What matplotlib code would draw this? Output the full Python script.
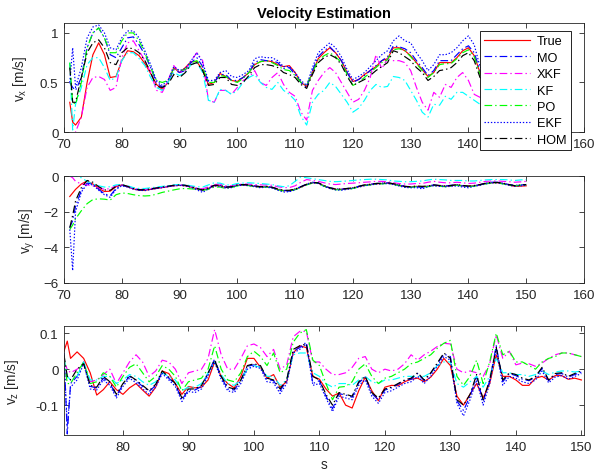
import matplotlib
matplotlib.use("Agg")
import matplotlib.pyplot as plt

plt.rcParams['font.family'] = ['Liberation Sans', 'DejaVu Sans']
plt.rcParams['mathtext.default'] = 'regular'
plt.rcParams['lines.scale_dashes'] = False

# sample times [s]
t = [71.0, 71.5] + list(range(72, 151))

# ---- v_x [m/s] ----
vx_true = [0.30, 0.10, 0.07, 0.15, 0.50, 0.78, 0.90, 0.78, 0.55, 0.56,
           0.72, 0.82, 0.81, 0.77, 0.69, 0.59, 0.48, 0.43, 0.50, 0.65,
           0.60, 0.65, 0.71, 0.71, 0.62, 0.48, 0.50, 0.59, 0.56, 0.52,
           0.51, 0.55, 0.60, 0.68, 0.71, 0.72, 0.71, 0.68, 0.66, 0.67,
           0.60, 0.50, 0.46, 0.60, 0.74, 0.80, 0.85, 0.80, 0.72, 0.60,
           0.51, 0.53, 0.58, 0.62, 0.66, 0.72, 0.74, 0.85, 0.85, 0.82,
           0.77, 0.70, 0.63, 0.56, 0.60, 0.70, 0.70, 0.70, 0.75, 0.82,
           0.85, 0.77, 0.60, 0.55, 0.58, 0.62, 0.66, 0.68, 0.70, 0.68,
           0.65]
vx_mo = [0.50, 0.45, 0.42, 0.55, 0.85, 1.00, 1.05, 0.95, 0.78, 0.75,
         0.85, 0.95, 0.96, 0.88, 0.78, 0.65, 0.50, 0.45, 0.50, 0.63,
         0.60, 0.62, 0.70, 0.75, 0.66, 0.50, 0.50, 0.58, 0.58, 0.52,
         0.52, 0.55, 0.60, 0.70, 0.73, 0.72, 0.72, 0.70, 0.64, 0.65,
         0.58, 0.50, 0.45, 0.62, 0.76, 0.82, 0.86, 0.80, 0.72, 0.60,
         0.50, 0.53, 0.57, 0.62, 0.67, 0.72, 0.76, 0.87, 0.86, 0.84,
         0.80, 0.72, 0.65, 0.57, 0.62, 0.72, 0.72, 0.72, 0.78, 0.84,
         0.87, 0.80, 0.62, 0.57, 0.60, 0.64, 0.68, 0.70, 0.72, 0.70,
         0.67]
vx_xkf = [-0.10, -0.05, 0.00, 0.15, 0.45, 0.55, 0.56, 0.53, 0.42, 0.45,
          0.75, 0.90, 0.92, 0.82, 0.72, 0.60, 0.42, 0.40, 0.52, 0.67,
          0.60, 0.62, 0.72, 0.80, 0.72, 0.32, 0.30, 0.42, 0.42, 0.38,
          0.45, 0.52, 0.55, 0.62, 0.50, 0.47, 0.55, 0.60, 0.48, 0.40,
          0.36, 0.20, 0.12, 0.42, 0.52, 0.60, 0.65, 0.60, 0.50, 0.40,
          0.30, 0.33, 0.42, 0.55, 0.78, 0.64, 0.74, 0.72, 0.72, 0.70,
          0.62, 0.45, 0.30, 0.22, 0.40, 0.35, 0.48, 0.45, 0.55, 0.60,
          0.52, 0.38, 0.35, 0.38, 0.42, 0.46, 0.50, 0.50, 0.48, 0.46,
          0.45]
vx_kf = [0.70, 0.02, 0.28, 0.45, 0.68, 0.75, 0.75, 0.65, 0.52, 0.55,
         0.72, 0.80, 0.80, 0.74, 0.67, 0.55, 0.45, 0.42, 0.50, 0.60,
         0.57, 0.60, 0.68, 0.70, 0.60, 0.32, 0.30, 0.43, 0.42, 0.38,
         0.42, 0.50, 0.55, 0.58, 0.50, 0.45, 0.43, 0.50, 0.42, 0.38,
         0.32, 0.16, 0.07, 0.30, 0.38, 0.42, 0.50, 0.46, 0.38, 0.30,
         0.20, 0.24, 0.32, 0.42, 0.48, 0.45, 0.46, 0.56, 0.55, 0.52,
         0.42, 0.32, 0.20, 0.15, 0.28, 0.27, 0.36, 0.33, 0.40, 0.40,
         0.36, 0.32, 0.28, 0.30, 0.33, 0.36, 0.40, 0.42, 0.40, 0.38,
         0.38]
vx_po = [0.70, 0.30, 0.28, 0.50, 0.85, 1.00, 1.05, 0.95, 0.80, 0.80,
         0.92, 1.00, 1.00, 0.92, 0.80, 0.65, 0.52, 0.50, 0.52, 0.64,
         0.62, 0.63, 0.70, 0.72, 0.65, 0.50, 0.50, 0.57, 0.56, 0.52,
         0.50, 0.54, 0.60, 0.68, 0.71, 0.72, 0.70, 0.67, 0.63, 0.62,
         0.57, 0.50, 0.47, 0.60, 0.72, 0.77, 0.80, 0.76, 0.70, 0.58,
         0.47, 0.50, 0.55, 0.60, 0.65, 0.70, 0.73, 0.83, 0.84, 0.82,
         0.76, 0.69, 0.62, 0.55, 0.60, 0.68, 0.69, 0.69, 0.74, 0.80,
         0.83, 0.76, 0.58, 0.54, 0.57, 0.61, 0.65, 0.67, 0.69, 0.67,
         0.64]
vx_ekf = [0.50, 0.85, 0.45, 0.65, 0.95, 1.06, 1.08, 1.00, 0.85, 0.83,
          0.95, 1.02, 1.02, 0.95, 0.82, 0.68, 0.52, 0.47, 0.52, 0.66,
          0.62, 0.64, 0.72, 0.80, 0.70, 0.52, 0.52, 0.60, 0.62, 0.56,
          0.55, 0.58, 0.62, 0.74, 0.76, 0.75, 0.75, 0.72, 0.66, 0.66,
          0.60, 0.52, 0.47, 0.65, 0.80, 0.85, 0.90, 0.85, 0.76, 0.63,
          0.53, 0.56, 0.60, 0.66, 0.72, 0.78, 0.82, 0.92, 0.97, 0.92,
          0.90, 0.80, 0.72, 0.62, 0.68, 0.78, 0.78, 0.80, 0.85, 0.92,
          0.97, 0.88, 0.66, 0.60, 0.63, 0.67, 0.71, 0.73, 0.75, 0.73,
          0.70]
vx_hom = [0.65, 0.30, 0.30, 0.55, 0.80, 0.90, 0.93, 0.85, 0.70, 0.68,
          0.80, 0.85, 0.84, 0.80, 0.72, 0.60, 0.46, 0.45, 0.48, 0.58,
          0.55, 0.60, 0.68, 0.70, 0.62, 0.47, 0.48, 0.55, 0.55, 0.48,
          0.47, 0.50, 0.57, 0.65, 0.68, 0.68, 0.67, 0.65, 0.60, 0.58,
          0.55, 0.48, 0.44, 0.58, 0.70, 0.75, 0.78, 0.75, 0.68, 0.56,
          0.47, 0.50, 0.53, 0.57, 0.62, 0.66, 0.70, 0.82, 0.80, 0.76,
          0.72, 0.65, 0.60, 0.52, 0.56, 0.62, 0.63, 0.65, 0.70, 0.77,
          0.80, 0.72, 0.55, 0.52, 0.55, 0.59, 0.63, 0.65, 0.67, 0.65,
          0.62]

# ---- v_y [m/s] ----
vy_true = [-1.15, -0.95, -0.75, -0.45, -0.28, -0.45, -0.70, -0.87, -0.85, -0.60,
           -0.50, -0.60, -0.72, -0.80, -0.80, -0.75, -0.70, -0.65, -0.60, -0.55,
           -0.52, -0.55, -0.62, -0.72, -0.80, -0.70, -0.55, -0.55, -0.65, -0.62,
           -0.52, -0.50, -0.52, -0.58, -0.62, -0.60, -0.65, -0.75, -0.82, -0.82,
           -0.75, -0.62, -0.48, -0.38, -0.40, -0.55, -0.68, -0.75, -0.75, -0.72,
           -0.68, -0.60, -0.52, -0.48, -0.44, -0.42, -0.40, -0.45, -0.52, -0.60,
           -0.62, -0.58, -0.60, -0.58, -0.52, -0.55, -0.58, -0.55, -0.50, -0.55,
           -0.58, -0.55, -0.50, -0.42, -0.38, -0.38, -0.42, -0.50, -0.58, -0.57,
           -0.55]
vy_mo = [-2.90, -2.50, -1.70, -0.80, -0.40, -0.45, -0.75, -1.00, -1.10, -0.70,
         -0.52, -0.60, -0.72, -0.78, -0.78, -0.72, -0.68, -0.63, -0.58, -0.53,
         -0.50, -0.53, -0.60, -0.70, -0.82, -0.68, -0.52, -0.53, -0.62, -0.60,
         -0.50, -0.48, -0.50, -0.55, -0.60, -0.58, -0.63, -0.72, -0.80, -0.85,
         -0.72, -0.60, -0.45, -0.35, -0.40, -0.55, -0.66, -0.72, -0.74, -0.70,
         -0.66, -0.58, -0.50, -0.46, -0.42, -0.40, -0.38, -0.44, -0.50, -0.58,
         -0.62, -0.60, -0.65, -0.56, -0.50, -0.54, -0.56, -0.52, -0.48, -0.55,
         -0.60, -0.55, -0.48, -0.40, -0.35, -0.35, -0.40, -0.48, -0.52, -0.50,
         -0.48]
vy_xkf = [0.00, -0.10, -0.30, -0.45, -0.50, -0.55, -0.65, -0.75, -0.70, -0.55,
          -0.50, -0.58, -0.68, -0.75, -0.75, -0.70, -0.66, -0.62, -0.58, -0.52,
          -0.50, -0.52, -0.58, -0.68, -0.72, -0.60, -0.48, -0.45, -0.55, -0.55,
          -0.48, -0.45, -0.45, -0.48, -0.50, -0.50, -0.52, -0.60, -0.65, -0.65,
          -0.55, -0.35, -0.20, -0.25, -0.30, -0.38, -0.45, -0.48, -0.45, -0.42,
          -0.40, -0.38, -0.35, -0.33, -0.30, -0.30, -0.32, -0.38, -0.42, -0.45,
          -0.45, -0.42, -0.42, -0.35, -0.30, -0.35, -0.38, -0.38, -0.35, -0.38,
          -0.42, -0.40, -0.35, -0.30, -0.28, -0.28, -0.30, -0.32, -0.35, -0.33,
          -0.30]
vy_kf = [0.00, 0.00, 0.00, -0.10, -0.30, -0.45, -0.55, -0.62, -0.60, -0.50,
         -0.48, -0.55, -0.65, -0.70, -0.70, -0.66, -0.62, -0.58, -0.55, -0.50,
         -0.48, -0.50, -0.55, -0.60, -0.62, -0.50, -0.38, -0.40, -0.50, -0.50,
         -0.42, -0.40, -0.38, -0.40, -0.42, -0.45, -0.48, -0.55, -0.60, -0.55,
         -0.30, -0.05, -0.10, -0.15, -0.20, -0.25, -0.30, -0.32, -0.30, -0.28,
         -0.25, -0.22, -0.20, -0.18, -0.18, -0.20, -0.22, -0.28, -0.30, -0.32,
         -0.32, -0.30, -0.28, -0.22, -0.18, -0.20, -0.22, -0.25, -0.25, -0.25,
         -0.28, -0.28, -0.25, -0.22, -0.20, -0.20, -0.20, -0.22, -0.25, -0.22,
         -0.20]
vy_po = [-3.00, -2.75, -2.40, -1.95, -1.55, -1.32, -1.28, -1.30, -1.35, -1.05,
         -0.95, -0.98, -1.05, -1.10, -1.12, -1.10, -1.02, -0.92, -0.85, -0.78,
         -0.72, -0.70, -0.72, -0.75, -0.80, -0.75, -0.62, -0.62, -0.70, -0.65,
         -0.55, -0.52, -0.54, -0.60, -0.64, -0.62, -0.67, -0.77, -0.84, -0.84,
         -0.77, -0.64, -0.50, -0.40, -0.42, -0.57, -0.70, -0.77, -0.77, -0.74,
         -0.70, -0.62, -0.54, -0.50, -0.46, -0.44, -0.42, -0.47, -0.54, -0.62,
         -0.64, -0.60, -0.62, -0.60, -0.54, -0.57, -0.60, -0.57, -0.52, -0.57,
         -0.60, -0.57, -0.52, -0.44, -0.40, -0.40, -0.44, -0.52, -0.56, -0.52,
         -0.50]
vy_ekf = [-3.00, -5.30, -2.00, -0.90, -0.45, -0.50, -0.80, -1.05, -1.20, -0.75,
          -0.55, -0.62, -0.74, -0.80, -0.82, -0.76, -0.70, -0.66, -0.60, -0.56,
          -0.53, -0.56, -0.64, -0.78, -0.92, -0.72, -0.56, -0.58, -0.68, -0.65,
          -0.54, -0.52, -0.54, -0.60, -0.66, -0.62, -0.68, -0.80, -0.90, -0.88,
          -0.78, -0.62, -0.48, -0.38, -0.42, -0.58, -0.70, -0.78, -0.80, -0.75,
          -0.70, -0.62, -0.55, -0.50, -0.46, -0.44, -0.42, -0.48, -0.56, -0.64,
          -0.66, -0.65, -0.72, -0.60, -0.55, -0.58, -0.60, -0.58, -0.55, -0.62,
          -0.66, -0.58, -0.52, -0.44, -0.40, -0.38, -0.44, -0.52, -0.58, -0.55,
          -0.52]
vy_hom = [-2.90, -2.20, -1.40, -0.65, -0.25, -0.35, -0.60, -0.78, -0.80, -0.58,
          -0.48, -0.58, -0.70, -0.77, -0.77, -0.72, -0.67, -0.62, -0.57, -0.52,
          -0.50, -0.52, -0.60, -0.70, -0.78, -0.67, -0.52, -0.52, -0.62, -0.60,
          -0.50, -0.48, -0.50, -0.56, -0.60, -0.58, -0.63, -0.73, -0.80, -0.80,
          -0.73, -0.60, -0.46, -0.36, -0.38, -0.53, -0.66, -0.73, -0.73, -0.70,
          -0.66, -0.58, -0.50, -0.46, -0.42, -0.40, -0.38, -0.43, -0.50, -0.58,
          -0.60, -0.56, -0.58, -0.56, -0.50, -0.53, -0.56, -0.53, -0.48, -0.53,
          -0.56, -0.53, -0.48, -0.40, -0.36, -0.36, -0.40, -0.48, -0.54, -0.50,
          -0.48]

# ---- v_z [m/s] ----
vz_true = [0.050, 0.078, 0.030, 0.048, 0.030, -0.010, -0.072, -0.057, -0.035, -0.057,
           -0.070, -0.052, -0.040, -0.058, -0.075, -0.050, -0.005, -0.012, -0.040, -0.070,
           -0.048, -0.052, -0.050, -0.030, 0.020, -0.020, -0.040, -0.052, -0.020, 0.030,
           0.030, 0.005, -0.025, -0.015, -0.050, -0.035, 0.045, 0.065, 0.060, -0.020,
           -0.028, -0.055, -0.075, -0.066, -0.100, -0.108, -0.060, -0.022, -0.060, -0.088,
           -0.050, -0.045, -0.046, -0.035, -0.028, -0.025, -0.035, -0.022, 0.000, 0.030,
           0.010, -0.075, -0.100, -0.070, -0.040, -0.080, -0.040, 0.040, -0.020, -0.020,
           -0.030, -0.045, -0.045, -0.025, -0.020, -0.030, -0.018, -0.018, -0.028, -0.025,
           -0.030]
vz_mo = [0.045, -0.180, -0.040, -0.020, 0.020, -0.048, -0.052, -0.025, -0.038, -0.075,
         -0.042, -0.020, -0.032, -0.048, -0.062, -0.045, -0.008, -0.025, -0.042, -0.085,
         -0.058, -0.058, -0.048, -0.012, 0.028, -0.022, -0.055, -0.058, -0.032, 0.008,
         0.012, 0.008, -0.028, -0.032, -0.060, -0.032, 0.050, 0.060, 0.075, -0.040,
         -0.032, -0.075, -0.110, -0.068, -0.072, -0.078, -0.038, -0.022, -0.068, -0.085,
         -0.058, -0.052, -0.042, -0.032, -0.028, -0.012, -0.032, -0.012, 0.015, 0.042,
         0.035, -0.088, -0.115, -0.075, -0.020, -0.090, -0.032, 0.065, -0.035, -0.012,
         -0.018, -0.028, -0.032, -0.022, 0.002, -0.032, -0.015, -0.012, -0.022, -0.015,
         -0.008]
vz_xkf = [0.020, 0.000, -0.010, 0.000, 0.015, -0.035, -0.030, -0.015, 0.000, -0.040,
          -0.010, 0.020, 0.040, 0.020, -0.020, -0.005, 0.025, 0.020, 0.000, -0.040,
          -0.010, -0.005, 0.000, 0.030, 0.110, 0.040, 0.000, 0.000, 0.030, 0.065,
          0.070, 0.060, 0.035, 0.055, 0.000, 0.012, 0.090, 0.105, 0.105, 0.020,
          0.020, 0.000, -0.015, -0.015, -0.010, 0.005, 0.030, 0.035, 0.000, -0.010,
          0.000, -0.005, 0.000, 0.015, 0.040, 0.025, 0.040, 0.050, 0.063, 0.072,
          0.070, 0.000, -0.010, -0.005, -0.010, -0.020, 0.015, 0.095, 0.030, 0.050,
          0.012, 0.017, 0.015, 0.008, 0.017, 0.030, 0.040, 0.045, 0.045, 0.040,
          0.035]
vz_kf = [0.030, -0.020, -0.030, -0.020, 0.020, -0.030, -0.030, -0.020, -0.020, -0.040,
         -0.030, -0.015, -0.020, -0.035, -0.045, -0.035, -0.010, -0.020, -0.030, -0.060,
         -0.050, -0.050, -0.040, -0.010, 0.020, -0.015, -0.040, -0.045, -0.030, 0.000,
         0.010, 0.005, -0.020, -0.020, -0.045, -0.030, 0.040, 0.045, 0.045, -0.010,
         -0.020, -0.040, -0.050, -0.040, -0.040, -0.045, -0.030, -0.020, -0.035, -0.040,
         -0.030, -0.030, -0.025, -0.020, -0.020, -0.020, -0.020, -0.010, 0.010, 0.020,
         0.020, -0.040, -0.050, -0.035, -0.020, -0.050, -0.020, 0.030, -0.010, -0.010,
         -0.015, -0.015, -0.020, -0.015, -0.005, -0.015, -0.008, -0.005, -0.005, -0.008,
         -0.005]
vz_po = [0.030, -0.040, -0.040, -0.010, 0.020, -0.040, -0.035, -0.010, -0.020, -0.050,
         -0.020, 0.005, 0.015, -0.010, -0.035, -0.020, 0.010, 0.000, -0.020, -0.060,
         -0.035, -0.030, -0.025, 0.000, 0.065, 0.000, -0.030, -0.035, -0.010, 0.035,
         0.050, 0.035, 0.010, 0.045, -0.010, 0.000, 0.075, 0.100, 0.110, 0.025,
         0.010, -0.040, -0.085, -0.050, -0.048, -0.035, 0.000, 0.015, -0.020, -0.040,
         -0.025, -0.020, -0.010, 0.000, 0.015, 0.020, 0.030, 0.040, 0.058, 0.072,
         0.080, -0.020, -0.045, -0.020, 0.025, -0.040, 0.020, 0.100, 0.040, 0.050,
         0.020, 0.020, 0.010, 0.000, 0.020, 0.030, 0.035, 0.045, 0.045, 0.040,
         0.035]
vz_ekf = [0.035, -0.160, -0.050, -0.030, 0.015, -0.055, -0.058, -0.030, -0.045, -0.080,
          -0.048, -0.025, -0.038, -0.055, -0.070, -0.050, -0.012, -0.030, -0.048, -0.090,
          -0.062, -0.065, -0.055, -0.018, 0.020, -0.028, -0.060, -0.065, -0.040, 0.000,
          0.008, 0.002, -0.035, -0.038, -0.068, -0.040, 0.045, 0.055, 0.070, -0.045,
          -0.040, -0.080, -0.118, -0.075, -0.080, -0.085, -0.045, -0.030, -0.075, -0.095,
          -0.065, -0.060, -0.050, -0.040, -0.035, -0.020, -0.040, -0.020, 0.008, 0.035,
          0.025, -0.095, -0.130, -0.085, -0.030, -0.100, -0.040, 0.055, -0.045, -0.020,
          -0.025, -0.035, -0.040, -0.030, -0.005, -0.038, -0.022, -0.018, -0.028, -0.020,
          -0.012]
vz_hom = [0.040, -0.020, -0.030, 0.000, 0.015, -0.045, -0.050, -0.020, -0.035, -0.070,
          -0.040, -0.018, -0.030, -0.045, -0.060, -0.042, -0.005, -0.022, -0.040, -0.080,
          -0.055, -0.055, -0.045, -0.010, 0.025, -0.020, -0.050, -0.055, -0.030, 0.010,
          0.015, 0.010, -0.025, -0.030, -0.055, -0.030, 0.055, 0.065, 0.070, -0.020,
          -0.030, -0.070, -0.100, -0.065, -0.070, -0.075, -0.035, -0.020, -0.065, -0.080,
          -0.055, -0.050, -0.040, -0.030, -0.025, -0.010, -0.030, -0.010, 0.017, 0.045,
          0.030, -0.085, -0.100, -0.070, -0.015, -0.085, -0.030, 0.060, -0.030, -0.010,
          -0.015, -0.025, -0.030, -0.020, 0.005, -0.030, -0.012, -0.010, -0.020, -0.012,
          -0.005]

labels = ['True', 'MO', 'XKF', 'KF', 'PO', 'EKF', 'HOM']
colors = ['#ff0000', '#0000ff', '#ff00ff', '#00ffff', '#00ff00', '#0000ff', '#000000']
DASHDOT = (0, (5.5, 2.2, 1.0, 2.2))
DOTTED = (0, (1.0, 1.3))
styles = ['-', DASHDOT, DASHDOT, DASHDOT, DASHDOT, DOTTED, DASHDOT]

vx = [vx_true, vx_mo, vx_xkf, vx_kf, vx_po, vx_ekf, vx_hom]
vy = [vy_true, vy_mo, vy_xkf, vy_kf, vy_po, vy_ekf, vy_hom]
vz = [vz_true, vz_mo, vz_xkf, vz_kf, vz_po, vz_ekf, vz_hom]

W, H = 613, 477
fig = plt.figure(figsize=(W / 100, H / 100), dpi=100)

def px_axes(left, top, right, bottom):
    return fig.add_axes([left / W, 1 - bottom / H, (right - left) / W, (bottom - top) / H])

ax1 = px_axes(64, 24, 584, 133)
ax2 = px_axes(64, 177, 584, 284)
ax3 = px_axes(64, 327, 584, 436)

FS = 9.6
edge = '#262626'

def style_axes(ax):
    for sp in ax.spines.values():
        sp.set_color(edge)
        sp.set_linewidth(0.6)
    ax.tick_params(direction='in', top=True, right=True, length=3.5, width=0.6,
                   colors=edge, labelsize=FS)
    ax.tick_params(axis='x', pad=4.5)
    ax.tick_params(axis='y', pad=4)

lines = []
for data, ax in ((vx, ax1), (vy, ax2), (vz, ax3)):
    hs = []
    for y, c, ls, lab in zip(data, colors, styles, labels):
        h, = ax.plot(t, y, color=c, linestyle=ls, linewidth=0.85, label=lab)
        hs.append(h)
    lines.append(hs)
    style_axes(ax)

ax1.set_xlim(70, 160)
ax1.set_ylim(0, 1.1)
ax1.set_xticks(range(70, 161, 10))
ax1.set_yticks([0, 0.5, 1])
ax1.set_yticklabels(['0', '0.5', '1'])
ax1.set_ylabel('v$_x$ [m/s]', fontsize=FS + 0.2, color=edge)
ax1.yaxis.set_label_coords((29 - 64) / 520, 0.5)
ax1.set_title('Velocity Estimation', fontsize=10.5, fontweight='bold', pad=4)

ax2.set_xlim(70, 160)
ax2.set_ylim(-6, 0)
ax2.set_xticks(range(70, 161, 10))
ax2.set_yticks([-6, -4, -2, 0])
ax2.set_ylabel('v$_y$ [m/s]', fontsize=FS + 0.2, color=edge)
ax2.yaxis.set_label_coords((37 - 64) / 520, 0.5)

ax3.set_xlim(71, 150.4)
ax3.set_ylim(-0.183, 0.12)
ax3.set_xticks(range(80, 151, 10))
ax3.set_yticks([-0.1, 0, 0.1])
ax3.set_yticklabels(['-0.1', '0', '0.1'])
ax3.set_ylabel('v$_z$ [m/s]', fontsize=FS + 0.2, color=edge)
ax3.yaxis.set_label_coords((21 - 64) / 520, 0.5)
ax3.set_xlabel('s', fontsize=FS + 0.2, color=edge, labelpad=3)

leg = ax1.legend(handles=lines[0], loc='upper left',
                 bbox_to_anchor=(480 / W, 1 - 32 / H), bbox_transform=fig.transFigure,
                 fontsize=9.2, frameon=True, fancybox=False, framealpha=1,
                 edgecolor='black', borderpad=0.35, labelspacing=0.34,
                 handlelength=3.6, handletextpad=0.5, borderaxespad=0)
leg.get_frame().set_linewidth(0.6)
leg.set_zorder(10)

fig.savefig('out.png', dpi=100)
